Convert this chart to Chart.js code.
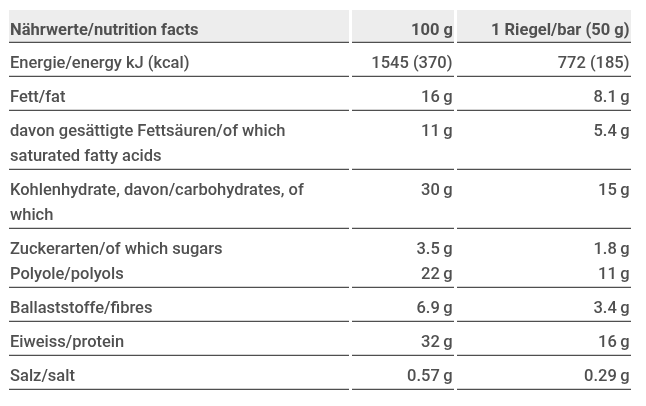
<!DOCTYPE html>
<html>
<head>
<meta charset="utf-8">
<script src="https://cdn.jsdelivr.net/npm/chart.js@4.4.1/dist/chart.umd.min.js"></script>
<style>
html,body{margin:0;padding:0;background:#fff;}
#wrap{width:646px;height:406px;}
</style>
</head>
<body>
<div id="wrap"><canvas id="c" width="646" height="406"></canvas></div>
<script>
// ---------- data ----------
const columnHeaders = ['Nährwerte/nutrition facts', '100 g', '1 Riegel/bar (50 g)'];
const nutrients = [
  ['Energie/energy kJ (kcal)'],
  ['Fett/fat'],
  ['davon gesättigte Fettsäuren/of which', 'saturated fatty acids'],
  ['Kohlenhydrate, davon/carbohydrates, of', 'which'],
  ['Zuckerarten/of which sugars'],
  ['Polyole/polyols'],
  ['Ballaststoffe/fibres'],
  ['Eiweiss/protein'],
  ['Salz/salt']
];
const per100g = [1545, 16, 11, 30, 3.5, 22, 6.9, 32, 0.57];
const perBar  = [772, 8.1, 5.4, 15, 1.8, 11, 3.4, 16, 0.29];
const kcal100g = 370;
const kcalBar = 185;
const units = ['', 'g', 'g', 'g', 'g', 'g', 'g', 'g', 'g'];
// true = item continues the table cell of the previous item (no rule between)
const sharedCell = [false, false, false, false, false, true, false, false, false];

// ---------- layout / style constants ----------
const TABLE_W = 622;
const COLS = [[0, 340], [343, 445], [448, 622]];
const LINE = 25, PAD = 9, HEAD_PAD = 8, BASE = 25;
const TEXT = '#505050', RULE = '#4f4f4f', HEAD_BG = '#ededed';
const FONT = '500 16.5px Roboto', FONT_B = 'bold 16.5px Roboto';

function fmt(v, u) { return u ? (String(v) + '\u2009' + u) : String(v); }
const per100Text = per100g.map((v, i) => i === 0 ? v + ' (' + kcal100g + ')' : fmt(v, units[i]));
const perBarText = perBar.map((v, i) => i === 0 ? v + ' (' + kcalBar + ')' : fmt(v, units[i]));

// build cells (groups of items), y in table units (top = 0)
const cells = [];
let yCursor = LINE + HEAD_PAD; // header occupies top
const headerCell = { top: 0, bottom: LINE + HEAD_PAD };
nutrients.forEach((lbl, i) => {
  if (!sharedCell[i] || cells.length === 0) {
    cells.push({ items: [], top: yCursor, lines: 0 });
  }
  const c = cells[cells.length - 1];
  c.items.push({ idx: i, firstLine: c.lines });
  c.lines += lbl.length;
});
cells.forEach(c => { c.top = yCursor; c.bottom = c.top + c.lines * LINE + PAD; yCursor = c.bottom;
  c.items.forEach(it => { it.baseline = c.top + BASE + it.firstLine * LINE; }); });
const TOTAL = yCursor;
const itemBaseline = [];
cells.forEach(c => c.items.forEach(it => { itemBaseline[it.idx] = it.baseline; }));

const tablePlugin = {
  id: 'nutritionTable',
  afterDatasetsDraw(chart) {
    const ctx = chart.ctx, xs = chart.scales.x, ys = chart.scales.y;
    const px = v => xs.getPixelForValue(v), py = v => ys.getPixelForValue(v);
    ctx.save();
    // header background
    ctx.fillStyle = HEAD_BG;
    COLS.forEach(([a, b]) => ctx.fillRect(px(a), py(headerCell.top), px(b) - px(a), py(headerCell.bottom) - py(headerCell.top)));
    // rules
    ctx.strokeStyle = RULE; ctx.lineWidth = 1.3;
    [headerCell, ...cells].forEach(c => {
      const y = py(c.bottom) - 0.6;
      COLS.forEach(([a, b]) => { ctx.beginPath(); ctx.moveTo(px(a), y); ctx.lineTo(px(b), y); ctx.stroke(); });
    });
    ctx.fillStyle = TEXT; ctx.textBaseline = 'alphabetic';
    // header text
    ctx.font = FONT_B;
    ctx.textAlign = 'left';
    ctx.fillText(columnHeaders[0], px(COLS[0][0] + 1), py(headerCell.top + BASE));
    ctx.textAlign = 'right';
    ctx.fillText(columnHeaders[1], px(COLS[1][1] - 1), py(headerCell.top + BASE));
    ctx.fillText(columnHeaders[2], px(COLS[2][1] - 1.5), py(headerCell.top + BASE));
    // labels
    ctx.font = FONT; ctx.textAlign = 'left';
    nutrients.forEach((lbl, i) => {
      lbl.forEach((line, k) => ctx.fillText(line, px(COLS[0][0] + 1), py(itemBaseline[i] + k * LINE)));
    });
    // values from dataset elements
    ctx.textAlign = 'right';
    chart.data.datasets.forEach((ds, d) => {
      const meta = chart.getDatasetMeta(d);
      meta.data.forEach((el, i) => ctx.fillText(ds.texts[i], el.x, el.y));
    });
    ctx.restore();
  }
};

function start() {
  new Chart(document.getElementById('c'), {
    type: 'scatter',
    data: {
      datasets: [
        { label: columnHeaders[1], texts: per100Text, pointRadius: 0,
          data: per100g.map((v, i) => ({ x: COLS[1][1] - 1.5, y: itemBaseline[i], v })) },
        { label: columnHeaders[2], texts: perBarText, pointRadius: 0,
          data: perBar.map((v, i) => ({ x: COLS[2][1] - 1.5, y: itemBaseline[i], v })) }
      ]
    },
    options: {
      responsive: false, animation: false,
      layout: { padding: { left: 9, right: 646 - 9 - TABLE_W, top: 10, bottom: 406 - 10 - TOTAL } },
      plugins: { legend: { display: false }, tooltip: { enabled: false } },
      scales: {
        x: { type: 'linear', min: 0, max: TABLE_W, display: false },
        y: { type: 'linear', min: 0, max: TOTAL, reverse: true, display: false }
      }
    },
    plugins: [tablePlugin]
  });
}
if (document.fonts && document.fonts.load) {
  Promise.all([document.fonts.load(FONT), document.fonts.load(FONT_B)]).then(start, start);
} else start();
</script>
</body>
</html>
